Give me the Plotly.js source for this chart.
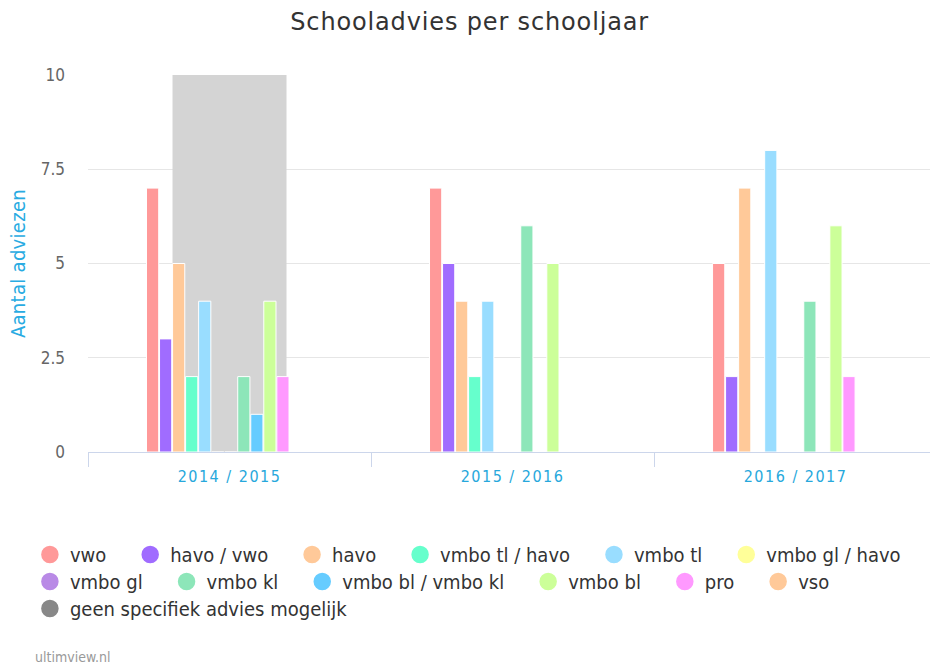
<!DOCTYPE html>
<html>
<head>
<meta charset="utf-8">
<script src="https://cdn.plot.ly/plotly-3.0.1.min.js"></script>
<style>
html,body{margin:0;padding:0;background:#fff;overflow:hidden;}
#chart{width:930px;height:664px;}
.xtick text{letter-spacing:1.5px;}
.gtitle{letter-spacing:0.85px;}
.ytitle{letter-spacing:0.3px;}
</style>
</head>
<body>
<div id="chart"></div>
<script>
// ---- data ----
var categories = ['2014 / 2015', '2015 / 2016', '2016 / 2017'];
var seriesNames = ['vwo', 'havo / vwo', 'havo', 'vmbo tl / havo', 'vmbo tl', 'vmbo gl / havo',
                   'vmbo gl', 'vmbo kl', 'vmbo bl / vmbo kl', 'vmbo bl', 'pro', 'vso'];
var vwo          = [7, 7, 5];
var havoVwo      = [3, 5, 2];
var havo         = [5, 4, 7];
var vmboTlHavo   = [2, 2, 0];
var vmboTl       = [4, 4, 8];
var vmboGlHavo   = [0, 0, 0];
var vmboGl       = [0, 0, 0];
var vmboKl       = [2, 6, 4];
var vmboBlKl     = [1, 0, 0];
var vmboBl       = [4, 5, 6];
var pro          = [2, 0, 2];
var vso          = [0, 0, 0];
var geenName     = 'geen specifiek advies mogelijk';
var geen         = [10, 0, 0];
var yTicks       = [0, 2.5, 5, 7.5, 10];
var yTickLabels  = ['0', '2.5', '5', '7.5', '10'];

var seriesValues = [vwo, havoVwo, havo, vmboTlHavo, vmboTl, vmboGlHavo, vmboGl, vmboKl, vmboBlKl, vmboBl, pro, vso];
var colors = ['#ff9999', '#a06cff', '#ffc999', '#66ffcc', '#99ddff', '#ffff99',
              '#b98ae6', '#8de6b9', '#66ccff', '#ccff99', '#ff99ff', '#ffc999'];
var geenBarColor = '#d4d4d4';
var geenLegendColor = '#888888';

// ---- geometry (category units) ----
var catPx = 283;
var slotW = 13.03 / catPx;
var barW = 12.2 / catPx;
var groupStart = -83 / catPx;

// legend rows
var rowOf = function (i) { return i < 6 ? 'legend' : 'legend2'; };
var isRowEnd = function (i) { return i === 5 || i === 11; };

var pad = '\u00a0\u00a0\u00a0\u200a';
var traces = [];

// gray wide bar behind
traces.push({
  type: 'bar', x: categories, y: geen, name: geenName, legendgroup: 'geen',
  showlegend: false, width: 114 / catPx, offset: -57 / catPx,
  marker: {color: geenBarColor, line: {color: '#ffffff', width: 0}},
  hoverinfo: 'x+y+name'
});

seriesNames.forEach(function (n, i) {
  traces.push({
    type: 'bar', x: categories, y: seriesValues[i], name: n, legendgroup: 'g' + i,
    showlegend: false, width: barW, offset: groupStart + i * slotW,
    marker: {color: colors[i], line: {color: '#ffffff', width: 1}},
    hoverinfo: 'x+y+name'
  });
});

// legend entries with circle markers
seriesNames.forEach(function (n, i) {
  traces.push({
    type: 'scatter', mode: 'markers', x: [null], y: [null], name: isRowEnd(i) ? n : n + pad, legendgroup: 'g' + i,
    legend: rowOf(i),
    marker: {color: colors[i], size: 16, symbol: 'circle', line: {color: colors[i], width: 1.5}}, hoverinfo: 'skip'
  });
});
traces.push({
  type: 'scatter', mode: 'markers', x: [null], y: [null], name: geenName, legendgroup: 'geen',
  legend: 'legend3',
  marker: {color: geenLegendColor, size: 16, symbol: 'circle', line: {color: geenLegendColor, width: 1.5}}, hoverinfo: 'skip'
});

var legendFont = {size: 20, color: '#333333', family: 'DejaVu Sans Condensed, DejaVu Sans, sans-serif'};
function legendAt(yTop) {
  return {
    orientation: 'h', x: -0.069, xanchor: 'left', y: yTop, yanchor: 'top',
    font: legendFont, itemsizing: 'trace', traceorder: 'normal', bgcolor: 'rgba(0,0,0,0)',
    borderwidth: 0
  };
}

var layout = {
  width: 930, height: 664,
  margin: {l: 88, r: 0, t: 75, b: 212, autoexpand: false},
  paper_bgcolor: '#ffffff', plot_bgcolor: '#ffffff',
  font: {family: 'DejaVu Sans, sans-serif', color: '#333333'},
  title: {text: 'Schooladvies per schooljaar', x: 0.505, xanchor: 'center', y: 0.967, yanchor: 'middle',
          font: {size: 24, color: '#333333', family: 'DejaVu Sans, sans-serif'}},
  barmode: 'overlay',
  showlegend: true,
  xaxis: {
    type: 'category', range: [-0.5, 2.475], fixedrange: true,
    showgrid: false, showline: true, linecolor: '#ccd6eb', linewidth: 1,
    ticks: 'outside', tickson: 'boundaries', ticklen: 14, tickcolor: '#ccd6eb', tickwidth: 1,
    ticklabelstandoff: 10,
    tickfont: {size: 16, color: '#27a8dc', family: 'DejaVu Sans Condensed, DejaVu Sans, sans-serif'},
    zeroline: false
  },
  yaxis: {
    range: [0, 10], fixedrange: true,
    tickvals: yTicks, ticktext: yTickLabels,
    showgrid: true, gridcolor: '#e6e6e6', gridwidth: 1,
    zeroline: false, showline: false, ticks: '',
    ticklabelstandoff: 22,
    tickfont: {size: 17, color: '#666666', family: 'DejaVu Sans Condensed, DejaVu Sans, sans-serif'},
    title: {text: 'Aantal adviezen', standoff: 9,
            font: {size: 20, color: '#29abe2', family: 'DejaVu Sans Condensed, DejaVu Sans, sans-serif'}}
  },
  legend: legendAt(-0.2202),
  legend2: legendAt(-0.2918),
  legend3: legendAt(-0.3634),
  annotations: [{
    text: 'ultimview.nl', xref: 'paper', yref: 'paper',
    x: -0.065, xanchor: 'left', y: -0.545, yanchor: 'middle', showarrow: false,
    font: {size: 14, color: '#999999', family: 'DejaVu Sans Condensed, DejaVu Sans, sans-serif'}
  }],
  hovermode: 'closest'
};

Plotly.newPlot('chart', traces, layout, {displayModeBar: false, responsive: false});
</script>
</body>
</html>
